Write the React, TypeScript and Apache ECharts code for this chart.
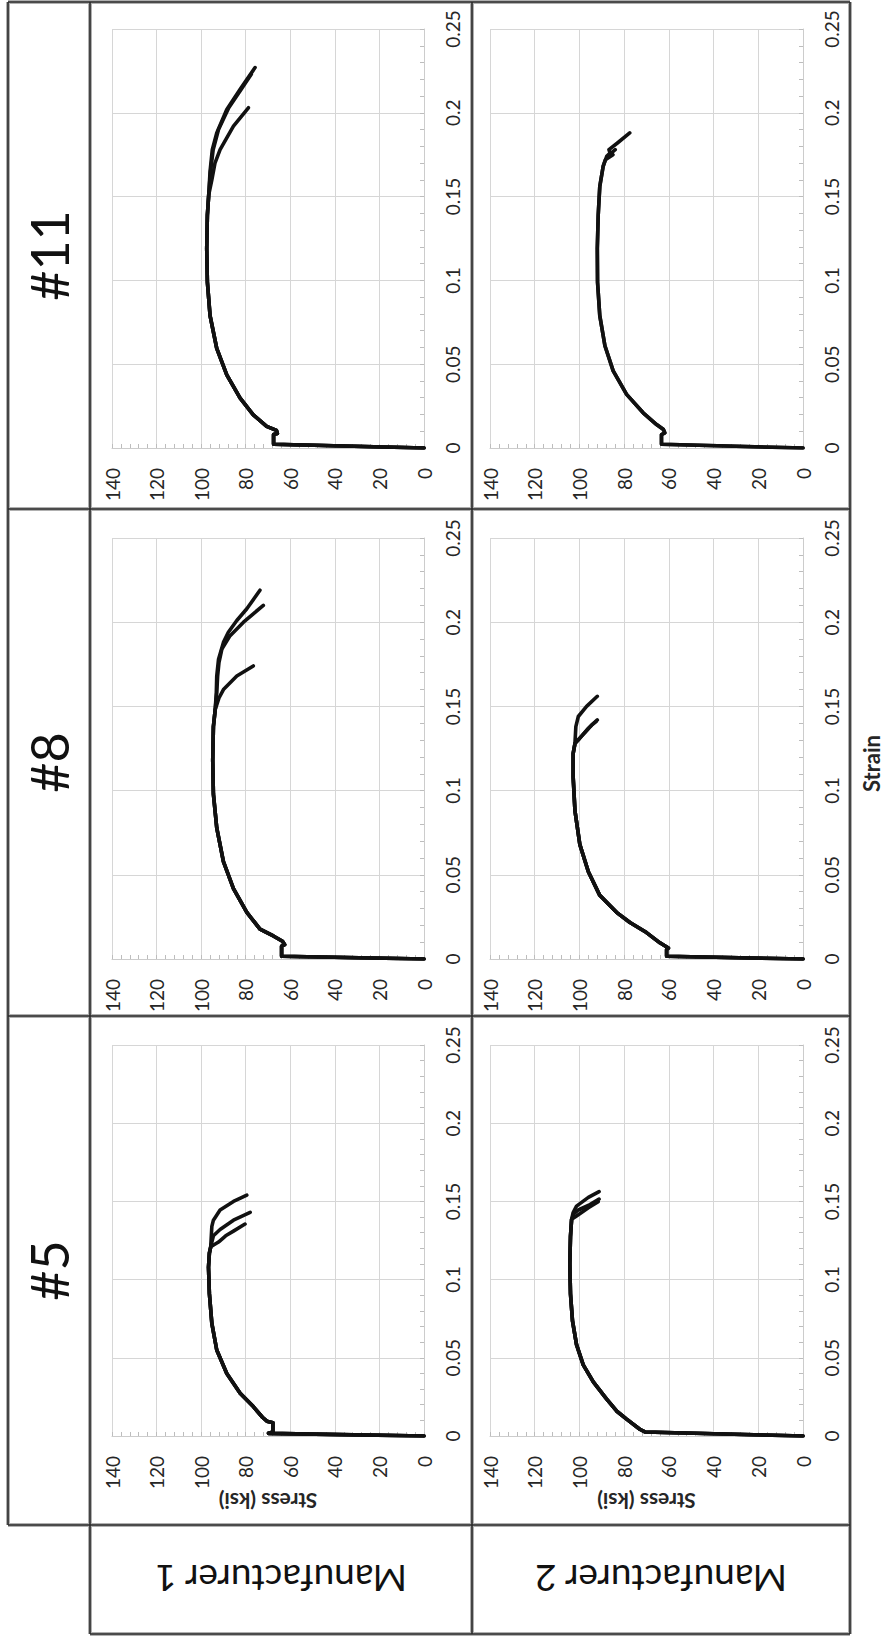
import React, { useEffect, useRef } from "react";
import * as echarts from "echarts";

// ---- axis definitions ----
const stressMin = 0;
const stressMax = 140;
const stressStep = 20;
const strainMin = 0;
const strainMax = 0.25;
const strainStep = 0.05;

// ---- labels ----
const sizeLabels = ["#11", "#8", "#5"]; // rows, top to bottom
const makerLabels = ["Manufacturer 1", "Manufacturer 2"]; // columns, left to right
const stressTitle = "Stress (ksi)";
const strainTitle = "Strain";

// ---- data: [strain, stress (ksi)] ----
// #11, Manufacturer 1
const s11m1Base = [[0, 0], [0.0022, 67.5], [0.008, 67.5], [0.0086, 65.8], [0.0105, 66.2], [0.0129, 70.6], [0.0198, 76.6], [0.0297, 82.5], [0.0436, 88.5], [0.0594, 93.0], [0.079, 96.0], [0.099, 97.2], [0.119, 97.5], [0.139, 97.2], [0.151, 96.6]];
const s11m1A = [[0.165, 96.0], [0.178, 95.0], [0.188, 93.0], [0.202, 88.5], [0.214, 82.5], [0.227, 75.8]];
const s11m1B = [[0.165, 95.8], [0.178, 94.6], [0.19, 92.2], [0.203, 87.6], [0.214, 82.0], [0.223, 77.5]];
const s11m1C = [[0.16, 95.2], [0.17, 93.8], [0.178, 91.5], [0.192, 85.5], [0.203, 78.8]];
// #11, Manufacturer 2
const s11m2Base = [[0, 0], [0.0022, 63.3], [0.008, 63.3], [0.009, 61.8], [0.011, 62.4], [0.014, 65.5], [0.021, 71.5], [0.032, 78.9], [0.046, 84.9], [0.061, 88.6], [0.079, 90.9], [0.099, 91.9], [0.119, 92.0], [0.139, 91.6], [0.156, 90.9], [0.168, 89.4]];
const s11m2A = [[0.174, 87.8], [0.176, 86.3], [0.178, 86.8], [0.182, 83.0], [0.188, 77.5]];
const s11m2B = [[0.172, 88.4], [0.175, 85.0], [0.176, 85.8], [0.178, 84.0]];
// #8, Manufacturer 1
const s8m1Base = [[0, 0], [0.0016, 63.9], [0.0076, 63.9], [0.0085, 62.5], [0.0105, 63.5], [0.0137, 67.6], [0.0177, 73.6], [0.0277, 79.5], [0.0418, 85.5], [0.0578, 90.0], [0.0779, 93.0], [0.098, 94.5], [0.118, 94.8], [0.138, 94.5], [0.148, 93.7]];
const s8m1A = [[0.155, 92.0], [0.16, 90.0], [0.168, 84.0], [0.174, 76.6]];
const s8m1B = [[0.158, 93.0], [0.168, 92.6], [0.176, 92.0], [0.184, 90.7], [0.192, 87.0], [0.2, 81.0], [0.205, 76.6], [0.21, 72.1]];
const s8m1C = [[0.158, 93.2], [0.168, 93.0], [0.178, 92.2], [0.188, 90.0], [0.194, 87.8], [0.201, 84.0], [0.208, 79.5], [0.219, 73.6]];
// #8, Manufacturer 2
const s8m2Base = [[0, 0], [0.0016, 61.0], [0.0056, 61.0], [0.0065, 60.2], [0.0096, 64.0], [0.0157, 70.0], [0.0217, 77.4], [0.0277, 83.4], [0.0378, 90.9], [0.0518, 96.0], [0.0679, 99.8], [0.088, 102.0], [0.108, 102.8], [0.122, 102.8], [0.128, 102.0]];
const s8m2A = [[0.138, 101.6], [0.144, 100.5], [0.15, 96.8], [0.156, 92.0]];
const s8m2B = [[0.13, 100.5], [0.134, 98.0], [0.137, 96.0], [0.142, 92.0]];
const s8m2C = [[0.131, 100.0], [0.135, 97.2], [0.139, 94.5], [0.141, 92.6]];
// #5, Manufacturer 1
const s5m1Base = [[0, 0], [0.0017, 69.8], [0.002, 69.8], [0.0025, 67.8], [0.0085, 67.8], [0.0095, 70.5], [0.012, 72.5], [0.0188, 76.6], [0.0273, 82.5], [0.04, 88.5], [0.055, 93.0], [0.072, 95.2], [0.091, 96.3], [0.108, 96.7], [0.117, 96.3], [0.121, 95.7]];
const s5m1A = [[0.134, 95.2], [0.138, 94.5], [0.1445, 91.5], [0.15, 85.5], [0.154, 79.5]];
const s5m1B = [[0.128, 94.5], [0.132, 91.5], [0.138, 85.5], [0.143, 78.0]];
const s5m1C = [[0.124, 92.2], [0.128, 89.0], [0.131, 85.5], [0.1355, 80.3]];
// #5, Manufacturer 2
const s5m2Base = [[0, 0], [0.0026, 70.7], [0.0043, 73.0], [0.0108, 78.9], [0.016, 83.4], [0.0238, 87.9], [0.0346, 93.8], [0.0455, 98.3], [0.0584, 101.3], [0.0736, 103.1], [0.0909, 104.0], [0.11, 104.3], [0.1277, 104.0], [0.1385, 103.5]];
const s5m2A = [[0.1429, 102.8], [0.147, 101.3], [0.1526, 96.0], [0.1563, 91.2]];
const s5m2B = [[0.142, 102.5], [0.1445, 100.5], [0.148, 95.3], [0.1515, 91.2]];
const s5m2C = [[0.1407, 101.3], [0.146, 96.0], [0.1498, 91.6]];

// panels[row][col] -> curves
const panels = [
  [
    [s11m1Base.concat(s11m1A), s11m1Base.concat(s11m1B), s11m1Base.concat(s11m1C)],
    [s11m2Base.concat(s11m2A), s11m2Base.concat(s11m2B)],
  ],
  [
    [s8m1Base.concat(s8m1A), s8m1Base.concat(s8m1B), s8m1Base.concat(s8m1C)],
    [s8m2Base.concat(s8m2A), s8m2Base.concat(s8m2B), s8m2Base.concat(s8m2C)],
  ],
  [
    [s5m1Base.concat(s5m1A), s5m1Base.concat(s5m1B), s5m1Base.concat(s5m1C)],
    [s5m2Base.concat(s5m2A), s5m2Base.concat(s5m2B), s5m2Base.concat(s5m2C)],
  ],
];

// ---- layout (px) ----
const W = 884;
const H = 1637;
const rowTop = [29, 538, 1045];
const rowBottom = [448, 959, 1436];
const colLeft = [112, 490];
const colRight = [424, 803];
const rowEdges = [2, 509, 1016, 1525];
const colEdges = [90, 472, 850];
const headerLeft = 8;
const footerBottom = 1634;

const FONT = "Lato, 'Open Sans', 'DejaVu Sans', sans-serif";

function tableLine(x1: number, y1: number, x2: number, y2: number) {
  return [
    { type: "line", silent: true, z: 10, shape: { x1, y1, x2, y2 }, style: { stroke: "#b0b0b0", lineWidth: 4 } },
    { type: "line", silent: true, z: 11, shape: { x1, y1, x2, y2 }, style: { stroke: "#2a2a2a", lineWidth: 1.6 } },
  ];
}

function buildOption() {
  const grid: any[] = [];
  const xAxis: any[] = [];
  const yAxis: any[] = [];
  const series: any[] = [];
  let idx = 0;
  for (let r = 0; r < 3; r++) {
    for (let c = 0; c < 2; c++) {
      grid.push({
        left: colLeft[c],
        top: rowTop[r],
        width: colRight[c] - colLeft[c],
        height: rowBottom[r] - rowTop[r],
        containLabel: false,
      });
      xAxis.push({
        type: "value",
        gridIndex: idx,
        min: stressMin,
        max: stressMax,
        interval: stressStep,
        inverse: true,
        position: "bottom",
        axisLine: { show: true, onZero: false, lineStyle: { color: "#cccccc", width: 1 } },
        axisTick: { show: true, inside: true, length: 4, lineStyle: { color: "#bdbdbd" } },
        minorTick: { show: true, splitNumber: 5, length: 4, lineStyle: { color: "#bdbdbd" } },
        splitLine: { show: true, lineStyle: { color: "#d6d6d6", width: 1 } },
        axisLabel: {
          rotate: 90,
          margin: 20,
          fontSize: 19,
          fontFamily: FONT,
          color: "#262626",
          showMinLabel: true,
          showMaxLabel: true,
          hideOverlap: false,
        },
      });
      yAxis.push({
        type: "value",
        gridIndex: idx,
        min: strainMin,
        max: strainMax,
        interval: strainStep,
        position: "right",
        axisLine: { show: true, onZero: false, lineStyle: { color: "#cccccc", width: 1 } },
        axisTick: { show: true, inside: true, length: 4, lineStyle: { color: "#bdbdbd" } },
        minorTick: { show: true, splitNumber: 5, length: 4, lineStyle: { color: "#bdbdbd" } },
        splitLine: { show: true, lineStyle: { color: "#d6d6d6", width: 1 } },
        axisLabel: {
          rotate: 90,
          margin: 19,
          fontSize: 19,
          fontFamily: FONT,
          color: "#262626",
          showMinLabel: true,
          showMaxLabel: true,
          hideOverlap: false,
          formatter: (v: number) => String(+v.toFixed(2)),
        },
      });
      for (const curve of panels[r][c]) {
        series.push({
          type: "line",
          xAxisIndex: idx,
          yAxisIndex: idx,
          data: curve.map((p) => [p[1], p[0]]),
          symbol: "none",
          silent: true,
          lineStyle: { color: "#111111", width: 3.6, join: "round", cap: "round" },
          z: 5,
        });
      }
      idx++;
    }
  }

  const graphic: any[] = [];
  // table grid lines
  for (const y of rowEdges) graphic.push(...tableLine(headerLeft, y, colEdges[2], y));
  graphic.push(...tableLine(colEdges[0], footerBottom, colEdges[2], footerBottom));
  graphic.push(...tableLine(headerLeft, rowEdges[0], headerLeft, rowEdges[3]));
  for (const x of colEdges) graphic.push(...tableLine(x, rowEdges[0], x, footerBottom));

  // row headers (#11, #8, #5)
  sizeLabels.forEach((t, r) => {
    graphic.push({
      type: "text",
      silent: true,
      z: 20,
      x: (headerLeft + colEdges[0]) / 2,
      y: (rowEdges[r] + rowEdges[r + 1]) / 2,
      rotation: Math.PI / 2,
      style: { text: t, fontSize: 52, fontFamily: FONT, fill: "#111", align: "center", verticalAlign: "middle" },
    });
  });
  // manufacturer labels (upside down)
  makerLabels.forEach((t, c) => {
    graphic.push({
      type: "text",
      silent: true,
      z: 20,
      x: (colEdges[c] + colEdges[c + 1]) / 2,
      y: (rowEdges[3] + footerBottom) / 2,
      rotation: Math.PI,
      style: { text: t, fontSize: 37, fontFamily: FONT, fill: "#111", align: "center", verticalAlign: "middle" },
    });
    // stress axis title in bottom row (upside down)
    graphic.push({
      type: "text",
      silent: true,
      z: 20,
      x: (colLeft[c] + colRight[c]) / 2,
      y: 1501,
      rotation: Math.PI,
      style: { text: stressTitle, fontSize: 21, fontWeight: "bold", fontFamily: FONT, fill: "#262626", align: "center", verticalAlign: "middle" },
    });
  });
  // strain title
  graphic.push({
    type: "text",
    silent: true,
    z: 20,
    x: 871,
    y: (rowEdges[0] + rowEdges[3]) / 2,
    rotation: Math.PI / 2,
    style: { text: strainTitle, fontSize: 22, fontWeight: "bold", fontFamily: FONT, fill: "#262626", align: "center", verticalAlign: "middle" },
  });

  return {
    animation: false,
    backgroundColor: "#ffffff",
    grid,
    xAxis,
    yAxis,
    series,
    graphic,
  };
}

export default function App() {
  const ref = useRef<HTMLDivElement>(null);
  useEffect(() => {
    if (!ref.current) return;
    const chart = echarts.init(ref.current, undefined, { renderer: "svg", width: W, height: H });
    chart.setOption(buildOption() as any);
    return () => chart.dispose();
  }, []);
  return (
    <div
      ref={ref}
      style={{ position: "absolute", left: 0, top: 0, width: W, height: H, background: "#fff" }}
    />
  );
}
